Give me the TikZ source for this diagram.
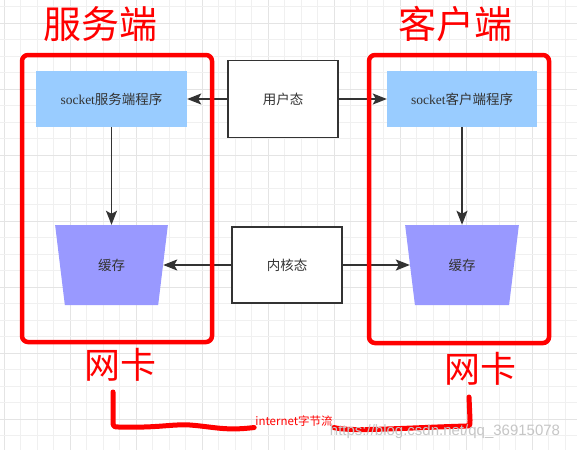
\documentclass[tikz,border=0pt]{standalone}
\usepackage{fontspec}
\setmainfont{Liberation Serif}
\newfontfamily\cjk{Noto Sans CJK SC}
\newfontfamily\marksans{Liberation Sans}
\usetikzlibrary{arrows.meta,shapes.geometric}
\definecolor{myred}{RGB}{255,0,0}
\definecolor{boxblue}{RGB}{153,204,255}
\definecolor{cachepurple}{RGB}{153,153,255}
\definecolor{darkline}{RGB}{51,51,51}
\definecolor{gridminor}{RGB}{240,240,240}
\definecolor{gridmajor}{RGB}{228,228,228}

\begin{document}
\begin{tikzpicture}[x=1pt, y=-1pt,
    title/.style={text=myred, font=\cjk\fontsize{38}{40}\selectfont, inner sep=0pt},
    nic/.style={text=myred, font=\cjk\fontsize{36}{38}\selectfont, inner sep=0pt},
    program/.style={fill=boxblue, text=darkline, minimum width=151pt, minimum height=56pt,
        font=\fontsize{13.5}{15}\selectfont},
    state/.style={draw=darkline, line width=1.4pt, fill=white, text=darkline,
        minimum width=110pt, minimum height=77pt, font=\cjk\fontsize{13.5}{15}\selectfont},
    cache/.style={trapezium, shape border rotate=180, trapezium stretches=true,
        trapezium left angle=77.3, trapezium right angle=77.3,
        minimum width=113pt, minimum height=80pt, inner sep=0pt,
        fill=cachepurple, text=darkline, font=\cjk\fontsize{13.5}{15}\selectfont},
    redframe/.style={draw=myred, line width=4.5pt, rounded corners=6pt},
    arr/.style={draw=darkline, line width=1.7pt, -{Stealth[length=14pt, width=11pt, inset=3pt]}},
    handline/.style={draw=myred, line width=5pt, line cap=round, line join=round}]
    \useasboundingbox (0,0) rectangle (577,450);
    \fill[white] (0,0) rectangle (577,450);
    % grid
    \foreach \i in {0,...,34} {
        \pgfmathtruncatemacro{\m}{mod(\i,4)}
        \ifnum\m=0
            \draw[gridmajor, line width=1pt] ({4+16.5*\i},0) -- ({4+16.5*\i},450);
        \else
            \draw[gridminor, line width=1pt] ({4+16.5*\i},0) -- ({4+16.5*\i},450);
        \fi
    }
    \foreach \j in {0,...,27} {
        \pgfmathtruncatemacro{\m}{mod(\j,4)}
        \ifnum\m=1
            \draw[gridmajor, line width=1pt] (0,{6.5+16.5*\j}) -- (577,{6.5+16.5*\j});
        \else
            \draw[gridminor, line width=1pt] (0,{6.5+16.5*\j}) -- (577,{6.5+16.5*\j});
        \fi
    }

    % boxes
    \node[program] (socketS) at (111.5,99) {socket{\cjk 服务端程序}};
    \node[program, minimum width=150pt] (socketC) at (462,99) {socket{\cjk 客户端程序}};
    \node[state] (user) at (283,99) {用户态};
    \node[state, minimum height=76pt] (kernel) at (287,265) {内核态};
    \node[cache] (cacheS) at (111.5,265) {缓存};
    \node[cache, minimum width=114pt] (cacheC) at (462,265) {缓存};

    \draw[arr] (user) -- (socketS);
    \draw[arr] (user) -- (socketC);
    \draw[arr] (kernel) -- (cacheS);
    \draw[arr] (kernel) -- (cacheC);
    \draw[arr] (socketS) -- (cacheS);
    \draw[arr] (socketC) -- (cacheC);

    % red frames
    \node[redframe, minimum width=190pt, minimum height=287pt] (serverFrame) at (117,198.5) {};
    \node[redframe, minimum width=180pt, minimum height=288pt] (clientFrame) at (459,199) {};
    \node[title] (serverTitle) at (100,24) {服务端};
    \node[title] (clientTitle) at (455,24) {客户端};
    \node[nic] (nicS) at (120,365) {网卡};
    \node[nic] (nicC) at (480,369) {网卡};

    % internet
    \node[text=myred, font=\cjk\fontsize{11.5}{13}\selectfont, inner sep=1pt] (flow) at (294,421) {internet字节流};
    \draw[handline] (113,392) -- (113,420)
        .. controls (113,427) .. (120,427)
        .. controls (160,428) and (170,424) .. (190,425)
        .. controls (215,427) and (225,431) .. (flow.south west);
    \draw[handline] (flow.south east) .. controls (350,432) and (400,428) .. (466,426)
        .. controls (470,426) .. (470,420) -- (469,397);
    \node[text=gray!45, font=\marksans\fontsize{15}{17}\selectfont, inner sep=0pt]
        (mark) at (445,432) {https://blog.csdn.net/qq\_36915078};
\end{tikzpicture}
\end{document}
